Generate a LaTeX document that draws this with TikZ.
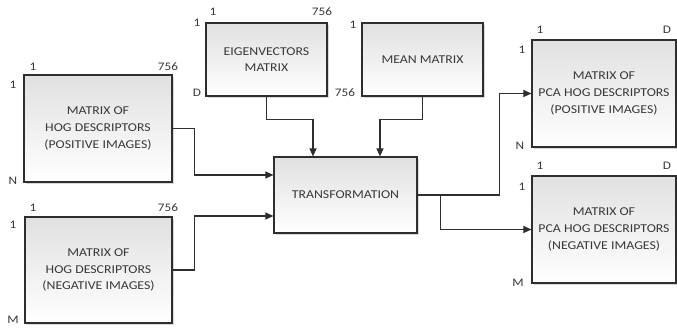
\documentclass[tikz,border=0pt]{standalone}
\usepackage{fontspec}
\setmainfont{Carlito}[FakeStretch=1.15]
\usetikzlibrary{arrows.meta,shadows}
\definecolor{txt}{HTML}{383838}
\definecolor{ln}{HTML}{2E2E2E}
\begin{document}
\begin{tikzpicture}[x=1pt,y=-1pt,
  box/.style={draw=ln, line width=1.2pt, top color=black!12, bottom color=white,
    drop shadow={shadow xshift=1.5pt, shadow yshift=-1.5pt, opacity=0.25, fill=black!60},
    align=center, font=\fontsize{12}{16.7}\selectfont, text=txt, inner sep=0pt},
  lbl/.style={font=\fontsize{11.5}{13}\selectfont, text=txt, inner sep=0pt},
  conn/.style={draw=ln, line width=1.1pt},
  arr/.style={conn, -{Triangle[length=8pt,width=7pt]}}]
\useasboundingbox (0,0) rectangle (677,327);
\fill[white] (0,0) rectangle (677,327);
% boxes
\node[box, minimum width=148pt, minimum height=107pt] (posH) at (98,128.5)
  {MATRIX OF\\HOG DESCRIPTORS\\(POSITIVE IMAGES)};
\node[box, minimum width=147pt, minimum height=106pt] (negH) at (98.5,270)
  {MATRIX OF\\HOG DESCRIPTORS\\(NEGATIVE IMAGES)};
\node[box, minimum width=121pt, minimum height=73pt] (eig) at (266.5,59.5)
  {EIGENVECTORS\\MATRIX};
\node[box, minimum width=121pt, minimum height=73pt] (mean) at (422.5,59.5)
  {MEAN MATRIX};
\node[box, minimum width=143pt, minimum height=76pt] (trans) at (345.5,195)
  {TRANSFORMATION};
\node[box, minimum width=144pt, minimum height=107pt] (pcaP) at (604,93.5)
  {MATRIX OF\\PCA HOG DESCRIPTORS\\(POSITIVE IMAGES)};
\node[box, minimum width=144pt, minimum height=107pt] (pcaN) at (604,229.5)
  {MATRIX OF\\PCA HOG DESCRIPTORS\\(NEGATIVE IMAGES)};
% labels
\node[lbl] (l1) at (33,67) {1};
\node[lbl] (l2) at (168,67) {756};
\node[lbl] (l3) at (13,85) {1};
\node[lbl] (l4) at (13,181) {N};
\node[lbl] (l5) at (33,208) {1};
\node[lbl] (l6) at (168,208) {756};
\node[lbl] (l7) at (13,225) {1};
\node[lbl] (l8) at (13,319.5) {M};
\node[lbl] (l9) at (197,23) {1};
\node[lbl] (l10) at (213,12) {1};
\node[lbl] (l11) at (322,12) {756};
\node[lbl] (l12) at (197,93) {D};
\node[lbl] (l13) at (353,25) {1};
\node[lbl] (l14) at (345,93) {756};
\node[lbl] (l15) at (540,30) {1};
\node[lbl] (l16) at (667,30) {D};
\node[lbl] (l17) at (522,50) {1};
\node[lbl] (l18) at (520,146) {N};
\node[lbl] (l19) at (540,166) {1};
\node[lbl] (l20) at (667,166) {D};
\node[lbl] (l21) at (522,187) {1};
\node[lbl] (l22) at (518,283) {M};
% connectors
\draw[arr] (posH.east) -- ++(22,0) |- ([yshift=20pt]trans.west);
\draw[arr] (negH.east) -- ++(22,0) |- ([yshift=-21pt]trans.west);
\draw[arr] (eig.south) -- ++(0,23) -| ([xshift=-32.5pt]trans.north);
\draw[arr] (mean.south) -- ++(0,23) -| ([xshift=34.5pt]trans.north);
\draw[arr] (trans.east) -- ++(82,0) |- (pcaP.west);
\coordinate (br) at ([xshift=23pt]trans.east);
\draw[arr] (br) |- (pcaN.west);
\end{tikzpicture}
\end{document}
